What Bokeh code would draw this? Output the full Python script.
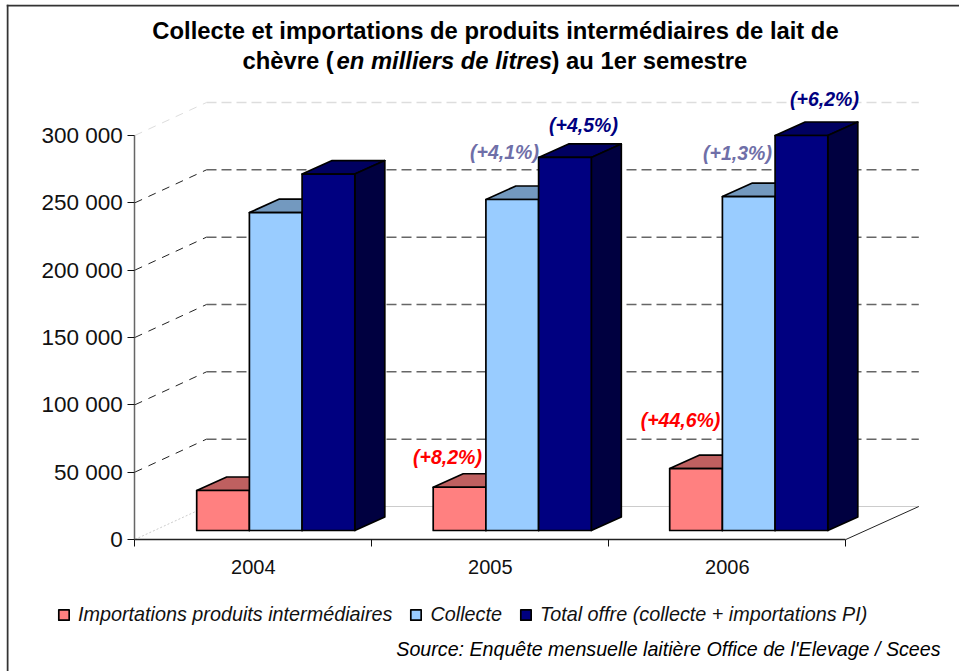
from bokeh.plotting import figure
from bokeh.models import (Range1d, LinearAxis, FixedTicker, Label, Legend, LegendItem,
                          BoxAnnotation, ColumnDataSource)
from bokeh.core.properties import value
from bokeh.embed import file_html
from bokeh.resources import INLINE

# ---- data -----------------------------------------------------------
years = ["2004", "2005", "2006"]
importations = [29700, 32100, 46000]
collecte = [236100, 245800, 248000]
total_offre = [264700, 277000, 293300]
y_ticks = [0, 50000, 100000, 150000, 200000, 250000, 300000]
y_tick_labels = ["0", "50 000", "100 000", "150 000", "200 000", "250 000", "300 000"]
pct_labels = ["(+8,2%)", "(+44,6%)", "(+4,1%)", "(+1,3%)", "(+4,5%)", "(+6,2%)"]
pct_colors = ["#ff0000", "#ff0000", "#6f6fa8", "#6f6fa8", "#000080", "#000080"]
series_names = ["Importations produits intermédiaires", "Collecte",
                "Total offre (collecte + importations PI)"]
title_line1 = "Collecte et importations de produits intermédiaires de lait de"
title_line2 = ["chèvre (", "en milliers de litres", ") au 1er semestre"]
source_text = "Source: Enquête mensuelle laitière Office de l'Elevage / Scees"

# ---- layout ---------------------------------------------------------
OX, OY, W, H = 6, 4, 953, 667
X0, Y0 = 134.3, 539.0     # page pixel of the origin of the axes
PX_CAT = 237.0            # pixels per category
PX_UNIT = 404.0 / 300000  # pixels per value unit
FONT = "Liberation Sans"


def xpx(px):
    return (px - X0) / PX_CAT


def ypx(py):
    return (Y0 - py) / PX_UNIT


p = figure(width=W, height=H, output_backend="svg", toolbar_location=None,
           x_range=Range1d(xpx(OX), xpx(OX + W)),
           y_range=Range1d(ypx(OY + H), ypx(OY)),
           min_border_left=0, min_border_right=0, min_border_top=0, min_border_bottom=0,
           x_axis_type=None, y_axis_type=None, outline_line_color=None,
           styles={"position": "absolute", "left": f"{OX}px", "top": f"{OY}px"})
p.grid.visible = False

# ---- axes -----------------------------------------------------------
ya = LinearAxis(ticker=FixedTicker(ticks=y_ticks), bounds=(0, 300000), fixed_location=0,
                major_label_overrides=dict(zip(y_ticks, y_tick_labels)),
                major_label_text_font=FONT, major_label_text_font_size="22.5px",
                major_label_text_color="#111111", major_label_standoff=5,
                major_tick_in=0, major_tick_out=7, minor_tick_line_color=None,
                major_tick_line_color="#111111", axis_line_color="#666666", axis_line_width=1.5)
p.add_layout(ya, "left")

xa = LinearAxis(ticker=FixedTicker(ticks=[0, 1, 2, 3]), bounds=(0, 3), fixed_location=0,
                major_label_overrides={0: "", 1: "", 2: "", 3: ""},
                major_label_text_font_size="1px", major_label_standoff=0,
                major_tick_in=0, major_tick_out=7, minor_tick_line_color=None,
                major_tick_line_color="#111111", axis_line_color="#222222", axis_line_width=1.5)
p.add_layout(xa, "below")

centers = [0.5, 1.5, 2.5]
xl = LinearAxis(ticker=FixedTicker(ticks=centers), fixed_location=0,
                major_label_overrides=dict(zip(centers, years)),
                major_label_text_font=FONT, major_label_text_font_size="20px",
                major_label_text_color="#111111", major_label_standoff=14,
                major_tick_line_color=None, minor_tick_line_color=None, axis_line_color=None)
p.add_layout(xl, "below")

# ---- walls and floor ------------------------------------------------
BACK_DX = 71.7 / PX_CAT
BACK_DY = 33.0 / PX_UNIT
WALL_END = 3 + 73.0 / PX_CAT
for v in y_ticks:
    col = "#dddddd" if v == 300000 else "#666666"
    if v == 0:
        p.line([0, BACK_DX], [0, BACK_DY], line_color="#cccccc", line_width=1, line_dash="2 2")
        p.line([BACK_DX, WALL_END], [BACK_DY, BACK_DY], line_color="#cccccc", line_width=1)
        continue
    p.line([BACK_DX, WALL_END], [v + BACK_DY, v + BACK_DY], line_color=col, line_width=1.5,
           line_dash="10 5")
    p.line([0, BACK_DX], [v, v + BACK_DY], line_color="#dddddd" if v == 300000 else "#222222",
           line_width=1, line_dash="8 7")
p.line([3, WALL_END], [0, BACK_DY], line_color="#222222", line_width=1)

# ---- bars -----------------------------------------------------------
BAR_W = 52.7 / PX_CAT
BAR_START = (196.2 - X0) / PX_CAT
BAR_STEP = 236.5 / PX_CAT
BASE = 9.0 / PX_UNIT
DX = 30.0 / PX_CAT
DY = 13.5 / PX_UNIT
series = [importations, collecte, total_offre]
face_colors = [("#ff8080", "#bf6060", "#804040"),
               ("#99ccff", "#7399bf", "#4d6680"),
               ("#000080", "#000060", "#000040")]
legend_items = []
for s, (vals, (front, top, side)) in enumerate(zip(series, face_colors)):
    lefts = [i * BAR_STEP + BAR_START + s * BAR_W for i in range(len(vals))]
    tops = [BASE + v for v in vals]
    p.patches([[l, l + DX, l + BAR_W + DX, l + BAR_W] for l in lefts],
              [[t, t + DY, t + DY, t] for t in tops],
              fill_color=top, line_color="black", line_width=1.7, line_join="round")
    p.patches([[l + BAR_W, l + BAR_W + DX, l + BAR_W + DX, l + BAR_W] for l in lefts],
              [[BASE, BASE + DY, t + DY, t] for t in tops],
              fill_color=side, line_color="black", line_width=1.7, line_join="round")
    r = p.patches([[l, l + BAR_W, l + BAR_W, l] for l in lefts],
                  [[BASE, BASE, t, t] for t in tops],
                  fill_color=front, line_color="black", line_width=1.7, line_join="round")
    legend_items.append(LegendItem(label=series_names[s], renderers=[r]))

# ---- percentage labels ----------------------------------------------
pct_px = [(447, 456), (680, 419), (504, 151), (737, 152), (583, 124), (824, 98)]
src = ColumnDataSource(dict(x=[xpx(a) for a, _ in pct_px], y=[ypx(b) for _, b in pct_px],
                            t=pct_labels, c=pct_colors))
p.text("x", "y", text="t", text_color="c", source=src, text_font=value(FONT),
       text_font_size="19.5px", text_font_style="bold italic", text_align="center",
       text_baseline="middle")

# ---- legend ---------------------------------------------------------
leg = Legend(items=legend_items, orientation="horizontal", location=(57 - OX, OY + H - 626),
             glyph_width=13, glyph_height=13, label_standoff=8, spacing=17, padding=0, margin=0,
             background_fill_alpha=0, border_line_color=None,
             label_text_font=FONT, label_text_font_size="19.8px", label_text_font_style="italic",
             label_text_color="#111111", label_height=13)
p.add_layout(leg, "center")


# ---- title, source and border ---------------------------------------
def lab(x, y, text, style, size, **kw):
    p.add_layout(Label(x=xpx(x), y=ypx(y), text=text, text_font=FONT, text_font_size=size,
                       text_font_style=style, text_color="#000000", text_baseline="middle", **kw))


lab(495, 30, title_line1, "bold", "23.8px", text_align="center")
lab(242, 60, title_line2[0], "bold", "23.8px")
lab(336, 60, title_line2[1], "bold italic", "23.8px")
lab(551, 60, title_line2[2], "bold", "23.8px")
lab(940, 648, source_text, "italic", "19.65px", text_align="right")

p.add_layout(BoxAnnotation(left=xpx(6), right=xpx(959), top=ypx(4), bottom=ypx(6),
                           fill_color="#333333", fill_alpha=1, line_color=None))
p.add_layout(BoxAnnotation(left=xpx(6), right=xpx(8), top=ypx(4), bottom=ypx(671),
                           fill_color="#333333", fill_alpha=1, line_color=None))

open("out.html", "w").write(file_html(p, INLINE))
